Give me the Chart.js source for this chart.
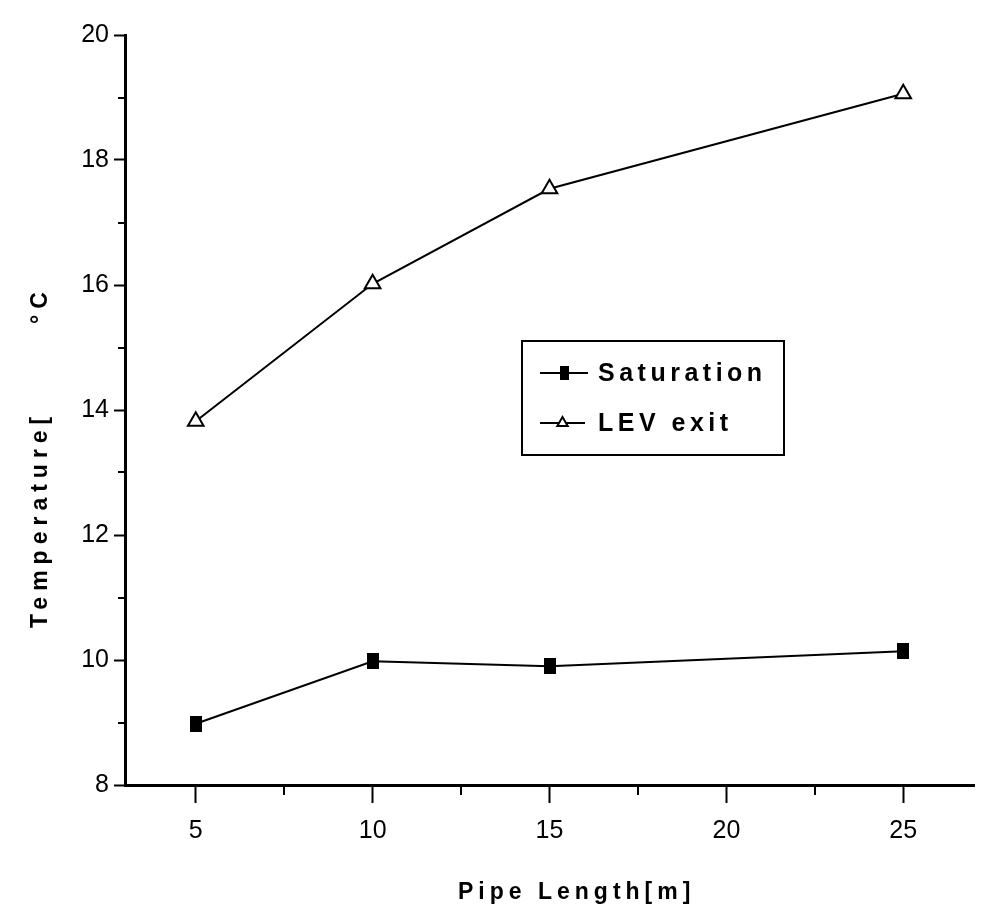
<!DOCTYPE html>
<html>
<head>
<meta charset="utf-8">
<script src="https://cdn.jsdelivr.net/npm/chart.js@4/dist/chart.umd.min.js"></script>
<style>
  body { margin: 0; background: #fff; }
  #wrap { width: 985px; height: 917px; position: relative; }
</style>
</head>
<body>
<div id="wrap"><canvas id="chartArea"></canvas></div>
<script>
// ----------------------------
// data
// ----------------------------
const pipeLength = [5, 10, 15, 25];
const saturation = [8.98, 9.98, 9.9, 10.14];
const levExit = [13.82, 16.02, 17.54, 19.06];

const xTicks = [5, 7.5, 10, 12.5, 15, 17.5, 20, 22.5, 25];
const yTicks = [8, 9, 10, 11, 12, 13, 14, 15, 16, 17, 18, 19, 20];

const FONT = '"Liberation Sans", Arial, sans-serif';

// filled square marker (a bit taller than wide, like the scan)
function squareMarker(w, h) {
  const c = document.createElement('canvas');
  c.width = w; c.height = h;
  const g = c.getContext('2d');
  g.fillStyle = '#000';
  g.fillRect(0, 0, w, h);
  return c;
}
const sq = squareMarker(12, 16);
const sqSmall = squareMarker(9, 14);

// ----------------------------
// minor ticks, axis titles, legend box
// ----------------------------
const extras = {
  id: 'extras',
  afterDraw(chart) {
    const ctx = chart.ctx;
    const xs = chart.scales.x, ys = chart.scales.y;
    const a = chart.chartArea;
    ctx.save();
    ctx.strokeStyle = '#000';
    ctx.lineWidth = 2;
    xTicks.filter(v => v % 5 !== 0).forEach(v => {
      const px = Math.round(xs.getPixelForValue(v));
      ctx.beginPath(); ctx.moveTo(px, a.bottom); ctx.lineTo(px, a.bottom + 10); ctx.stroke();
    });
    yTicks.filter(v => v % 2 !== 0).forEach(v => {
      const py = Math.round(ys.getPixelForValue(v));
      ctx.beginPath(); ctx.moveTo(a.left, py); ctx.lineTo(a.left - 7, py); ctx.stroke();
    });

    // axis titles
    ctx.fillStyle = '#000';
    ctx.font = 'bold 23px ' + FONT;
    ctx.letterSpacing = '5px';
    ctx.textAlign = 'left';
    ctx.textBaseline = 'alphabetic';
    ctx.fillText('Pipe Length[m]', 458, 899);

    ctx.save();
    ctx.translate(47, 628);
    ctx.rotate(-Math.PI / 2);
    ctx.letterSpacing = '6px';
    ctx.fillText('Temperature[       °C', 0, 0);
    ctx.restore();

    // legend
    const bx = 522, by = 341, bw = 262, bh = 114;
    ctx.lineWidth = 2;
    ctx.strokeRect(bx, by, bw, bh);
    ctx.font = 'bold 25px ' + FONT;
    ctx.textBaseline = 'middle';
    ctx.letterSpacing = '4.5px';
    const rows = [
      { label: chart.data.datasets[0].label, y: 373, style: sqSmall, r: 6, x0: 540, x1: 588, tx: 598 },
      { label: chart.data.datasets[1].label, y: 423, style: 'triangle', r: 6, x0: 540, x1: 585, tx: 598 }
    ];
    rows.forEach(r => {
      ctx.lineWidth = 2;
      ctx.beginPath(); ctx.moveTo(r.x0, r.y); ctx.lineTo(r.x1, r.y); ctx.stroke();
      ctx.fillStyle = '#fff';
      Chart.helpers.drawPoint(ctx, { pointStyle: r.style, radius: r.r, borderWidth: 1.5, rotation: 0 },
        (r.x0 + r.x1) / 2, r.y);
      ctx.fillStyle = '#000';
      ctx.fillText(r.label, r.tx, r.y + 1);
    });
    ctx.restore();
  }
};

// ----------------------------
// chart
// ----------------------------
new Chart(document.getElementById('chartArea'), {
  type: 'line',
  data: {
    datasets: [
      {
        label: 'Saturation',
        data: pipeLength.map((x, i) => ({ x, y: saturation[i] })),
        borderColor: '#000',
        borderWidth: 2,
        pointStyle: sq,
        backgroundColor: '#000',
        tension: 0
      },
      {
        label: 'LEV exit',
        data: pipeLength.map((x, i) => ({ x, y: levExit[i] })),
        borderColor: '#000',
        borderWidth: 2,
        pointStyle: 'triangle',
        pointRadius: 9,
        pointBorderWidth: 2,
        pointBackgroundColor: '#fff',
        pointBorderColor: '#000',
        tension: 0
      }
    ]
  },
  options: {
    responsive: true,
    maintainAspectRatio: false,
    animation: false,
    layout: { padding: { top: 35, right: 4, left: 0, bottom: 0 } },
    plugins: { legend: { display: false }, tooltip: { enabled: false } },
    scales: {
      x: {
        type: 'linear',
        min: 3,
        max: 27,
        afterBuildTicks: s => { s.ticks = xTicks.map(v => ({ value: v })); },
        afterFit: s => { s.height = 132; },
        border: { display: true, color: '#000', width: 3 },
        grid: {
          drawOnChartArea: false,
          drawTicks: true,
          tickLength: 18,
          tickWidth: 2,
          tickColor: c => (c.tick && c.tick.value % 5 === 0) ? '#000' : 'rgba(0,0,0,0)'
        },
        ticks: {
          autoSkip: false,
          maxRotation: 0,
          padding: 13,
          color: '#000',
          font: { family: FONT, size: 25 },
          callback: v => (v % 5 === 0 ? v : '')
        }
      },
      y: {
        min: 8,
        max: 20,
        afterBuildTicks: s => { s.ticks = yTicks.map(v => ({ value: v })); },
        afterFit: s => { s.width = 125; },
        border: { display: true, color: '#000', width: 3 },
        grid: {
          drawOnChartArea: false,
          drawTicks: true,
          tickLength: 11,
          tickWidth: 2,
          tickColor: c => (c.tick && c.tick.value % 2 === 0) ? '#000' : 'rgba(0,0,0,0)'
        },
        ticks: {
          autoSkip: false,
          padding: 5,
          color: '#000',
          font: { family: FONT, size: 25 },
          callback: v => (v % 2 === 0 ? v : '')
        }
      }
    }
  },
  plugins: [extras]
});
</script>
</body>
</html>
